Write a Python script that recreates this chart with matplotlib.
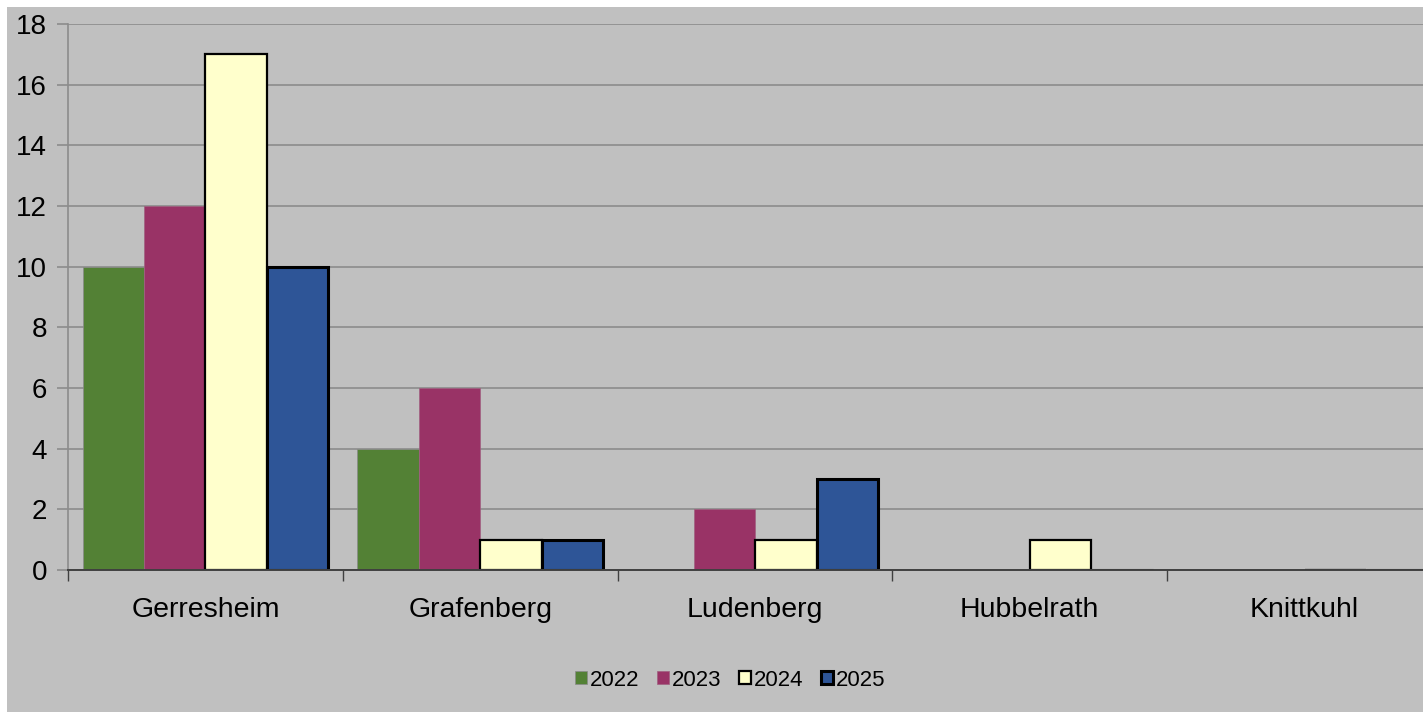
import numpy as np
import matplotlib.pyplot as plt
from matplotlib.patches import Rectangle

plt.rcParams['font.family'] = ['Liberation Sans', 'DejaVu Sans']

# Data
districts = ["Gerresheim", "Grafenberg", "Ludenberg", "Hubbelrath", "Knittkuhl"]
years = ["2022", "2023", "2024", "2025"]
v2022 = [10, 4, 0, 0, 0]
v2023 = [12, 6, 2, 0, 0]
v2024 = [17, 1, 1, 1, 0]
v2025 = [10, 1, 3, 0, 0]

colors = ["#538135", "#993366", "#FFFFCC", "#2E5597"]
edges = ["#8a8a8a", "#a06080", "black", "black"]
edge_w = [0.5, 0.5, 1.6, 2.2]

BG = "#C0C0C0"


def main():
    fig = plt.figure(figsize=(14.23, 7.12), dpi=100, facecolor="white")
    # gray chart area, with a thin white margin left and top
    fig.patches.append(Rectangle((7 / 1423, 0), 1, 1 - 7 / 712,
                                 transform=fig.transFigure, facecolor=BG,
                                 edgecolor="none", zorder=-10))

    ax = fig.add_axes([68 / 1423, 1 - 570 / 712, 1374 / 1423, 546 / 712])
    ax.set_facecolor(BG)

    x = np.arange(len(districts))
    width = 0.2236
    start = 0.053
    series = [v2022, v2023, v2024, v2025]
    for i, vals in enumerate(series):
        ax.bar(x + start + i * width, vals, width=width, align="edge",
               color=colors[i], edgecolor=edges[i], linewidth=edge_w[i],
               label=years[i], zorder=3)

    ax.set_xlim(0, len(districts))
    ax.set_ylim(0, 18)
    ax.set_yticks(range(0, 19, 2))
    ax.yaxis.grid(True, color="#8c8c8c", linewidth=1.2, zorder=0)
    ax.set_axisbelow(True)

    # category boundaries as ticks, labels centred in each group
    ax.set_xticks(range(len(districts) + 1))
    ax.set_xticklabels([])
    ax.set_xticks(x + 0.5, minor=True)
    ax.set_xticklabels(districts, minor=True, fontsize=20.5)
    ax.tick_params(axis="x", which="minor", length=0, pad=19.5)
    ax.tick_params(axis="x", which="major", length=8, width=1, color="#404040")
    ax.tick_params(axis="y", length=8, width=1.2, color="#8c8c8c", labelsize=20, pad=7)

    for side in ["top", "right"]:
        ax.spines[side].set_visible(False)
    ax.spines["left"].set_color("#8c8c8c")
    ax.spines["left"].set_linewidth(1.2)
    ax.spines["bottom"].set_color("#404040")
    ax.spines["bottom"].set_linewidth(1.4)
    ax.spines["bottom"].set_zorder(4)

    fig.legend(loc="center", bbox_to_anchor=(730 / 1423, 1 - 680 / 712),
               ncol=4, frameon=False, fontsize=16, handlelength=0.55,
               handleheight=0.55, handletextpad=0.12, columnspacing=0.8)

    fig.savefig("out.png", dpi=100, facecolor=fig.get_facecolor())


if __name__ == '__main__':
    main()
